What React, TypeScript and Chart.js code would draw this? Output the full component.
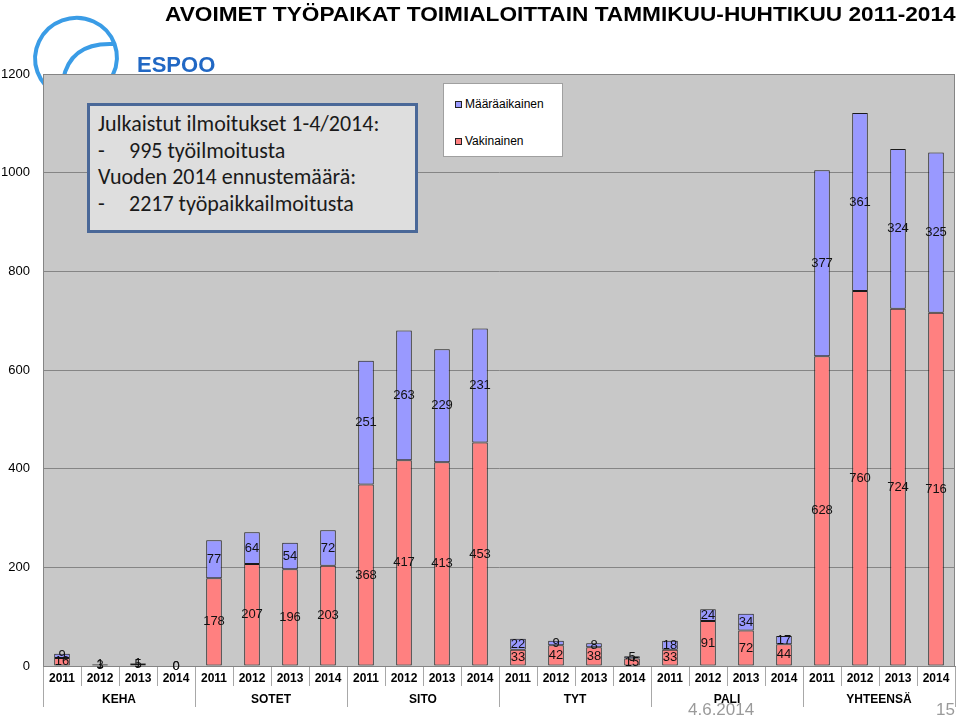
import React, { useEffect, useRef } from 'react';
import { Chart, registerables } from 'chart.js';

Chart.register(...registerables);

const groups = ['KEHA', 'SOTET', 'SITO', 'TYT', 'PALI', 'YHTEENSÄ'];
const years = ['2011', '2012', '2013', '2014'];
const yearLabels = groups.flatMap(() => years);

// Vakinainen (permanent) – lower segment
const vakinainen = [16, 3, 5, 0, 178, 207, 196, 203, 368, 417, 413, 453, 33, 42, 38, 15, 33, 91, 72, 44, 628, 760, 724, 716];
// Määräaikainen (fixed-term) – upper segment
const maaraaikainen = [9, 1, 1, 0, 77, 64, 54, 72, 251, 263, 229, 231, 22, 9, 8, 5, 18, 24, 34, 17, 377, 361, 324, 325];

const yMin = 0;
const yMax = 1200;
const yStep = 200;

const ARIAL = '"Liberation Sans", Arial, sans-serif';
const RED = '#ff8080';
const BLUE = '#9999ff';

const plotBg = {
  id: 'plotBg',
  beforeDraw(chart: any) {
    const { ctx, chartArea } = chart;
    const { left, top, right, bottom } = chartArea;
    ctx.save();
    ctx.fillStyle = '#c8c8c8';
    ctx.fillRect(left, top, right - left, bottom - top);
    ctx.restore();
  },
  beforeDatasetsDraw(chart: any) {
    const { ctx, chartArea } = chart;
    const { left, top, right, bottom } = chartArea;
    ctx.save();
    ctx.strokeStyle = '#858585';
    ctx.lineWidth = 1;
    ctx.strokeRect(Math.round(left) + 0.5, Math.round(top) + 0.5, Math.round(right - left) - 1, Math.round(bottom - top));
    ctx.restore();
  },
};

const segLabels = {
  id: 'segLabels',
  afterDatasetsDraw(chart: any) {
    const ctx = chart.ctx;
    ctx.save();
    ctx.font = `13px ${ARIAL}`;
    ctx.fillStyle = '#111';
    ctx.textAlign = 'center';
    ctx.textBaseline = 'middle';
    chart.data.datasets.forEach((ds: any, di: number) => {
      const meta = chart.getDatasetMeta(di);
      meta.data.forEach((el: any, i: number) => {
        const p = el.getProps(['x', 'y', 'base'], true);
        ctx.fillText(String(ds.data[i]), p.x, (p.y + p.base) / 2);
      });
    });
    ctx.restore();
  },
};

function ChartCanvas() {
  const ref = useRef<HTMLCanvasElement>(null);
  useEffect(() => {
    if (!ref.current) return;
    const chart = new Chart(ref.current, {
      type: 'bar',
      data: {
        labels: yearLabels,
        datasets: [
          {
            label: 'Vakinainen',
            data: vakinainen,
            backgroundColor: RED,
            borderColor: '#1a1a1a',
            borderWidth: 1,
            borderSkipped: false,
            categoryPercentage: 1,
            barPercentage: 0.41,
          },
          {
            label: 'Määräaikainen',
            data: maaraaikainen,
            backgroundColor: BLUE,
            borderColor: '#1a1a1a',
            borderWidth: 1,
            borderSkipped: false,
            categoryPercentage: 1,
            barPercentage: 0.41,
          },
        ],
      },
      options: {
        responsive: false,
        animation: false,
        devicePixelRatio: 1,
        layout: { padding: { top: 74, right: 5, left: 0, bottom: 0 } },
        plugins: { legend: { display: false }, tooltip: { enabled: false } },
        scales: {
          x: {
            type: 'category',
            stacked: true,
            offset: true,
            position: 'bottom',
            weight: 0,
            grid: { offset: true, drawOnChartArea: false, drawTicks: true, tickLength: 20, color: '#a8a8a8', lineWidth: 1 },
            border: { display: true, color: '#858585' },
            ticks: { font: { family: ARIAL, size: 12, weight: 'bold' }, color: '#000', padding: -15, maxRotation: 0, autoSkip: false },
            afterFit(s: any) { s.height = 20; },
          },
          x2: {
            type: 'category',
            labels: groups,
            offset: true,
            position: 'bottom',
            weight: 1,
            grid: { offset: true, drawOnChartArea: false, drawTicks: true, tickLength: 21, color: '#a8a8a8', lineWidth: 1 },
            border: { display: false },
            ticks: { font: { family: ARIAL, size: 12, weight: 'bold' }, color: '#000', padding: -15, maxRotation: 0, autoSkip: false },
            afterFit(s: any) { s.height = 31; },
          },
          y: {
            stacked: true,
            min: yMin,
            max: yMax,
            ticks: { stepSize: yStep, color: '#000', font: { family: ARIAL, size: 13 }, padding: 13, callback: (v: any) => String(v) },
            grid: { color: '#858585', drawTicks: false, lineWidth: 1 },
            border: { display: true, color: '#858585' },
            afterFit(s: any) { s.width = 43; },
          },
        },
      } as any,
      plugins: [plotBg, segLabels],
    });
    return () => chart.destroy();
  }, []);
  return <canvas ref={ref} width={960} height={717} style={{ position: 'absolute', left: 0, top: 0, width: 960, height: 717 }} />;
}

export default function App() {
  const calibri = 'Carlito, Lato, "Open Sans", sans-serif';
  return (
    <div style={{ position: 'absolute', left: 0, top: 0, width: 960, height: 717, overflow: 'hidden', background: '#fff', fontFamily: ARIAL }}>
      {/* logo arcs behind chart */}
      <svg width={960} height={717} style={{ position: 'absolute', left: 0, top: 0 }}>
        <ellipse cx={76} cy={58} rx={41} ry={40} transform="rotate(-20 76 58)" fill="none" stroke="#3a9ce6" strokeWidth={4} />
        <path d="M 63 80 Q 70 42 114 44" fill="none" stroke="#3a9ce6" strokeWidth={4} />
      </svg>
      <ChartCanvas />
      <div style={{ position: 'absolute', left: 137, top: 54, fontSize: 22, lineHeight: '22px', fontWeight: 'bold', color: '#2168c4', fontFamily: ARIAL }}>ESPOO</div>
      <div style={{ position: 'absolute', left: 165, top: 4, fontSize: 20, lineHeight: '20px', fontWeight: 'bold', color: '#000', whiteSpace: 'nowrap', fontFamily: ARIAL, transform: 'scaleX(1.133)', transformOrigin: 'left top' }}>
        AVOIMET TYÖPAIKAT TOIMIALOITTAIN TAMMIKUU-HUHTIKUU 2011-2014
      </div>
      {/* text box */}
      <div style={{ position: 'absolute', left: 87, top: 103, width: 325, height: 124, border: '3px solid #4a6898', background: '#dedede', fontFamily: calibri, fontSize: 22, color: '#1a1a1a', boxSizing: 'content-box' }}>
        <div style={{ position: 'absolute', left: 8, top: 5, lineHeight: '26.7px', whiteSpace: 'nowrap' }}>
          <div>Julkaistut ilmoitukset 1-4/2014:</div>
          <div><span style={{ display: 'inline-block', width: 31 }}>-</span>995 työilmoitusta</div>
          <div>Vuoden 2014 ennustemäärä:</div>
          <div><span style={{ display: 'inline-block', width: 31 }}>-</span>2217 työpaikkailmoitusta</div>
        </div>
      </div>
      {/* legend */}
      <div style={{ position: 'absolute', left: 443, top: 83, width: 118, height: 72, border: '1px solid #a0a0a0', background: '#fff', fontFamily: ARIAL, fontSize: 12, color: '#000' }}>
        <div style={{ position: 'absolute', left: 11, top: 13, display: 'flex', alignItems: 'center', whiteSpace: 'nowrap' }}>
          <span style={{ display: 'inline-block', width: 5, height: 5, background: BLUE, border: '1px solid #222', marginRight: 3 }} />
          Määräaikainen
        </div>
        <div style={{ position: 'absolute', left: 11, top: 50, display: 'flex', alignItems: 'center', whiteSpace: 'nowrap' }}>
          <span style={{ display: 'inline-block', width: 5, height: 5, background: RED, border: '1px solid #222', marginRight: 3 }} />
          Vakinainen
        </div>
      </div>
      <div style={{ position: 'absolute', left: 688, top: 701, fontSize: 17, lineHeight: '17px', color: '#9a9a9a', fontFamily: ARIAL }}>4.6.2014</div>
      <div style={{ position: 'absolute', left: 936, top: 701, fontSize: 17, lineHeight: '17px', color: '#9a9a9a', fontFamily: ARIAL }}>15</div>
    </div>
  );
}
